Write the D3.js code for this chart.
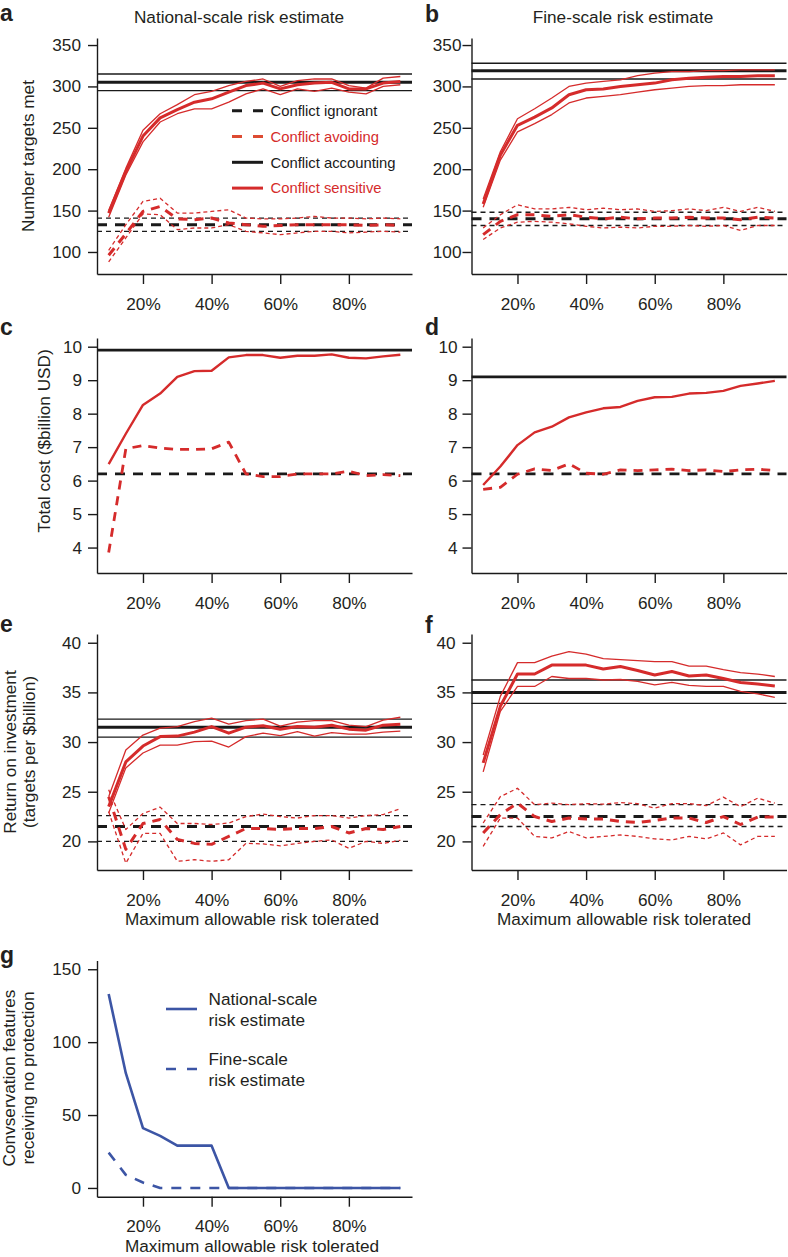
<!DOCTYPE html>
<html><head><meta charset="utf-8">
<script src="https://cdn.jsdelivr.net/npm/d3@7"></script>
<style>
html,body{margin:0;padding:0;background:#fff;}
svg text{font-family:"Liberation Sans",Arial,Helvetica,sans-serif;fill:#231f20;}
</style></head>
<body><svg id="chart" width="788" height="1257"></svg>
<script>
// ---------- DATA ----------
const risk = [0.10,0.15,0.20,0.25,0.30,0.35,0.40,0.45,0.50,0.55,0.60,0.65,0.70,0.75,0.80,0.85,0.90,0.95];
const xTicks = [0.2,0.4,0.6,0.8];

// Panel a: National-scale, number of targets met
const aSensMid = [147,197,240,262,272,281,285,293,301,304,297,302,304,305,297,297,304,306];
const aSensHi  = [150,201,247,267,278,290,294,301,306,309,300,307,309,309,301,298,310,312];
const aSensLo  = [142,193,233,257,267,273,273,281,291,297,290,297,294,298,293,291,300,302];
const aAvoidMid = [96,122,149,155,140,139,141,135,133,131,132,133,133,133,133,132,133,132];
const aAvoidHi  = [102,133,161,165,147,147,149,151,141,140,140,141,143,141,141,140,141,140];
const aAvoidLo  = [88,117,146,145,127,129,129,133,125,123,121,123,125,125,123,124,125,124];
const aAccount = [295,305,315];   // lower, mean, upper
const aIgnorant = [125,133,141];

// Panel b: Fine-scale, number of targets met
const bSensMid = [158,217,253,263,274,290,296,297,300,302,304,308,310,311,312,312,313,313];
const bSensHi  = [164,221,261,273,286,300,304,306,308,313,316,318,318,319,319,320,320,320];
const bSensLo  = [154,211,245,255,266,280,286,288,290,293,296,298,300,301,301,302,302,302];
const bAvoidMid = [121,137,145,145,143,145,142,140,142,140,141,141,142,141,141,139,142,141];
const bAvoidHi  = [129,145,157,152,152,154,151,153,151,152,149,150,152,150,154,149,154,149];
const bAvoidLo  = [115,129,136,137,136,134,131,129,130,129,131,131,132,131,132,126,132,132];
const bAccount = [309,319,328];
const bIgnorant = [132,140,148];

// Panel c: National-scale, total cost
const cSens  = [6.49,7.4,8.26,8.6,9.1,9.27,9.28,9.68,9.75,9.75,9.67,9.73,9.73,9.77,9.67,9.65,9.71,9.76];
const cAvoid = [3.85,6.95,7.05,6.97,6.93,6.93,6.95,7.15,6.2,6.12,6.12,6.2,6.2,6.2,6.28,6.15,6.18,6.15];
const cAccount = 9.9;
const cIgnorant = 6.2;

// Panel d: Fine-scale, total cost
const dSens  = [5.87,6.42,7.06,7.44,7.61,7.89,8.04,8.16,8.2,8.38,8.49,8.5,8.6,8.62,8.68,8.83,8.9,8.98];
const dAvoid = [5.74,5.8,6.19,6.35,6.3,6.5,6.22,6.19,6.32,6.3,6.32,6.34,6.3,6.32,6.27,6.32,6.34,6.3];
const dAccount = 9.1;
const dIgnorant = 6.2;

// Panel e: National-scale, return on investment
const eSensMid = [23.5,28,29.6,30.55,30.6,31,31.56,30.9,31.5,31.65,31.3,31.56,31.5,31.7,31.3,31.2,31.7,31.8];
const eSensHi  = [24.5,29.2,30.7,31.4,31.55,32.06,32.4,31.8,32.16,32.3,31.6,32,32.16,32.16,31.7,31.55,32.2,32.5];
const eSensLo  = [22.85,27.4,28.9,29.7,29.7,30.05,30.1,29.5,30.55,30.9,30.65,31.05,30.6,30.95,30.8,30.8,31,31.1];
const eAvoidMid = [24.5,19.2,21.8,22.2,20.2,19.8,19.7,20.5,21.3,21.3,21.2,21.3,21.3,21.5,20.85,21.3,21.2,21.5];
const eAvoidHi  = [25.2,21.2,22.8,23.45,21.8,21.8,21.7,21.85,22.5,22.75,22.5,22.35,22.6,22.6,22.35,22.6,22.7,23.3];
const eAvoidLo  = [23,17.8,20.8,20.8,18,18.15,18,18.15,19.8,19.75,19.55,19.8,20,20.15,19.3,20,19.8,20.1];
const eAccount = [30.5,31.5,32.3];
const eIgnorant = [20.0,21.5,22.6];

// Panel f: Fine-scale, return on investment
const fSensMid = [27.9,33.6,36.85,36.85,37.75,37.75,37.75,37.35,37.6,37.2,36.75,37.1,36.65,36.75,36.4,36,35.85,35.65];
const fSensHi  = [28.7,34.6,38,38,38.66,39.1,38.86,38.4,38.3,38.2,38.1,38.1,37.65,37.65,37.3,37,36.85,36.6];
const fSensLo  = [27,33.1,35.6,35.6,36.6,36.4,36.4,36.25,36.3,36.1,35.75,36,35.7,35.6,35.6,35.1,34.85,34.5];
const fAvoidMid = [20.85,22.7,23.85,22.5,22,22.35,22.25,22.25,22,21.9,22.1,22.35,22.35,21.9,22.5,21.7,22.45,22.45];
const fAvoidHi  = [21.85,24.5,25.35,23.7,23.85,23.7,23.8,23.75,23.9,23.8,23.35,23.8,23.8,23.6,24.45,23.5,24.35,23.85];
const fAvoidLo  = [19.5,22.35,22.35,20.5,20.35,21,20.35,20.5,20.65,20.5,20.25,20.15,20.5,20.25,20.85,19.65,20.5,20.5];
const fAccount = [33.9,35,36.25];
const fIgnorant = [21.5,22.5,23.7];

// Panel g: conservation features receiving no protection
const gNational = [133,78.7,41,35.7,29,29,29,0,0,0,0,0,0,0,0,0,0,0];
const gFine     = [24.2,9,3.7,0,0,0,0,0,0,0,0,0,0,0,0,0,0,0];

const ticksTargets = [100,150,200,250,300,350];
const ticksCost = [4,5,6,7,8,9,10];
const ticksROI = [20,25,30,35,40];
const ticksG = [0,50,100,150];

const legendA = ["Conflict ignorant","Conflict avoiding","Conflict accounting","Conflict sensitive"];
const legendG = [["National-scale","risk estimate"],["Fine-scale","risk estimate"]];

// ---------- STYLE / LAYOUT ----------
const RED = "#d52b2b", BLACK = "#1a1a1a", BLUE = "#3c55a5";
const FS = 17.2;
const svg = d3.select("#chart");
svg.append("rect").attr("width",788).attr("height",1257).attr("fill","#fff");

const cols = [{x0:97, x1:412, titleX:252}, {x0:471.5, x1:786.5, titleX:624}];
const rows = [
  {top:38, bot:274, lo:73.4, hi:358.5},
  {top:338, bot:573, lo:3.24, hi:10.26},
  {top:634, bot:870, lo:17.12, hi:40.88},
  {top:960.5, bot:1196.7, lo:-6, hi:156}
];
const xDomain = [0.066, 0.984];

function drawPanel(o){
  const c = cols[o.col], r = rows[o.row];
  const x = d3.scaleLinear().domain(xDomain).range([c.x0, c.x1]);
  const y = d3.scaleLinear().domain([r.lo, r.hi]).range([r.bot, r.top]);
  const g = svg.append("g");
  (o.hlines||[]).forEach(h=>{
    g.append("line").attr("x1",c.x0).attr("x2",c.x1)
      .attr("y1",y(h.v)).attr("y2",y(h.v))
      .attr("stroke",h.color||BLACK).attr("stroke-width",h.w)
      .attr("stroke-dasharray",h.dash||null);
  });
  const line = d3.line().x((d,i)=>x(risk[i])).y(d=>y(d));
  (o.series||[]).forEach(s=>{
    g.append("path").datum(s.data).attr("d",line)
      .attr("fill","none").attr("stroke",s.color).attr("stroke-width",s.w)
      .attr("stroke-dasharray",s.dash||null).attr("stroke-linejoin","round");
  });
  const ya = d3.axisLeft(y).tickValues(o.yTicks).tickSize(9).tickSizeOuter(0).tickPadding(o.ypad)
      .tickFormat(d3.format("d"));
  const ga = svg.append("g").attr("transform",`translate(${c.x0},0)`).call(ya);
  const xa = d3.axisBottom(x).tickValues(xTicks).tickSize(10).tickSizeOuter(0).tickPadding(8)
      .tickFormat(d=>Math.round(d*100)+"%");
  const gx = svg.append("g").attr("transform",`translate(0,${r.bot})`).call(xa);
  [ga,gx].forEach(a=>{
    a.selectAll("path,line").attr("stroke",BLACK).attr("stroke-width",1.4);
    a.selectAll("text").attr("font-size",FS).attr("fill","#231f20");
  });
  gx.selectAll("text").attr("dy","1.02em");
  svg.append("text").attr("x",o.col===0?0:425).attr("y",o.letterY)
    .attr("font-size",23).attr("font-weight","bold").text(o.letter);
  if(o.xTitle){
    svg.append("text").attr("x",c.titleX).attr("y",r.bot+55)
      .attr("text-anchor","middle").attr("font-size",FS).text("Maximum allowable risk tolerated");
  }
  if(o.yTitle){
    o.yTitle.forEach((t,i)=>{
      svg.append("text").attr("transform",`translate(${o.yTitleX[i]},${o.yTitleY}) rotate(-90)`)
        .attr("text-anchor","middle").attr("font-size",FS).text(t);
    });
  }
  return {x,y};
}

const thickW = 3, thinW = 1.3;
function bandSeries(mid,hi,lo,color,dashed){
  return [
    {data:hi, color, w:thinW, dash:dashed?"4,3":null},
    {data:lo, color, w:thinW, dash:dashed?"4,3":null},
    {data:mid, color, w:thickW, dash:dashed?"9,7":null}
  ];
}
function bandLines(vals, dashed){
  return [
    {v:vals[0], w:thinW, dash:dashed?"5,4":null},
    {v:vals[2], w:thinW, dash:dashed?"5,4":null},
    {v:vals[1], w:thickW, dash:dashed?"10,8":null}
  ];
}

drawPanel({col:0,row:0,letter:"a",letterY:21,yTicks:ticksTargets,ypad:7,
  hlines:[...bandLines(aAccount,false),...bandLines(aIgnorant,true)],
  series:[...bandSeries(aSensMid,aSensHi,aSensLo,RED,false),...bandSeries(aAvoidMid,aAvoidHi,aAvoidLo,RED,true)],
  yTitle:["Number targets met"],yTitleX:[34],yTitleY:156});
drawPanel({col:1,row:0,letter:"b",letterY:22,yTicks:ticksTargets,ypad:1,
  hlines:[...bandLines(bAccount,false),...bandLines(bIgnorant,true)],
  series:[...bandSeries(bSensMid,bSensHi,bSensLo,RED,false),...bandSeries(bAvoidMid,bAvoidHi,bAvoidLo,RED,true)]});
drawPanel({col:0,row:1,letter:"c",letterY:335,yTicks:ticksCost,ypad:6,
  hlines:[{v:cAccount,w:2.8},{v:cIgnorant,w:2.8,dash:"10,8"}],
  series:[{data:cSens,color:RED,w:2.4},{data:cAvoid,color:RED,w:2.8,dash:"9,7"}],
  yTitle:["Total cost ($billion USD)"],yTitleX:[50],yTitleY:441});
drawPanel({col:1,row:1,letter:"d",letterY:335,yTicks:ticksCost,ypad:5,
  hlines:[{v:dAccount,w:2.8},{v:dIgnorant,w:2.8,dash:"10,8"}],
  series:[{data:dSens,color:RED,w:2.4},{data:dAvoid,color:RED,w:2.8,dash:"9,7"}]});
drawPanel({col:0,row:2,letter:"e",letterY:632,yTicks:ticksROI,ypad:7,xTitle:true,
  hlines:[...bandLines(eAccount,false),...bandLines(eIgnorant,true)],
  series:[...bandSeries(eSensMid,eSensHi,eSensLo,RED,false),...bandSeries(eAvoidMid,eAvoidHi,eAvoidLo,RED,true)],
  yTitle:["Return on investment","(targets per $billion)"],yTitleX:[16,35],yTitleY:752});
drawPanel({col:1,row:2,letter:"f",letterY:633,yTicks:ticksROI,ypad:7,xTitle:true,
  hlines:[...bandLines(fAccount,false),...bandLines(fIgnorant,true)],
  series:[...bandSeries(fSensMid,fSensHi,fSensLo,RED,false),...bandSeries(fAvoidMid,fAvoidHi,fAvoidLo,RED,true)]});
drawPanel({col:0,row:3,letter:"g",letterY:963,yTicks:ticksG,ypad:7,xTitle:true,
  series:[{data:gFine,color:BLUE,w:2.6,dash:"10,9"},{data:gNational,color:BLUE,w:2.6}],
  yTitle:["Convservation features","receiving no protection"],yTitleX:[15,34],yTitleY:1078});

// ---------- LEGENDS ----------
const legA = svg.append("g");
const legStyles = [
  {color:BLACK, dash:"10,11", text:BLACK},
  {color:"#dd4b32", dash:"10,11", text:RED},
  {color:BLACK, dash:null, text:BLACK},
  {color:RED, dash:null, text:RED}
];
legendA.forEach((t,i)=>{
  const yy = 110.7 + i*25.8;
  legA.append("line").attr("x1",232).attr("x2",263).attr("y1",yy).attr("y2",yy)
    .attr("stroke",legStyles[i].color).attr("stroke-width",3).attr("stroke-dasharray",legStyles[i].dash);
  legA.append("text").attr("x",270.5).attr("y",yy).attr("dy","0.36em")
    .attr("font-size",14.8).style("fill",legStyles[i].text).text(t);
});
const legG = svg.append("g");
legendG.forEach((lines,i)=>{
  const yy = 1009 + i*60;
  legG.append("line").attr("x1",166).attr("x2",197).attr("y1",yy).attr("y2",yy)
    .attr("stroke",BLUE).attr("stroke-width",2.6).attr("stroke-dasharray",i===1?"10,11":null);
  lines.forEach((t,j)=>{
    legG.append("text").attr("x",208.5).attr("y",yy-10+j*20.5).attr("dy","0.36em")
      .attr("font-size",FS).text(t);
  });
});

svg.append("text").attr("x",239).attr("y",23).attr("text-anchor","middle").attr("font-size",FS).text("National-scale risk estimate");
svg.append("text").attr("x",623).attr("y",23).attr("text-anchor","middle").attr("font-size",FS).text("Fine-scale risk estimate");
</script></body></html>
